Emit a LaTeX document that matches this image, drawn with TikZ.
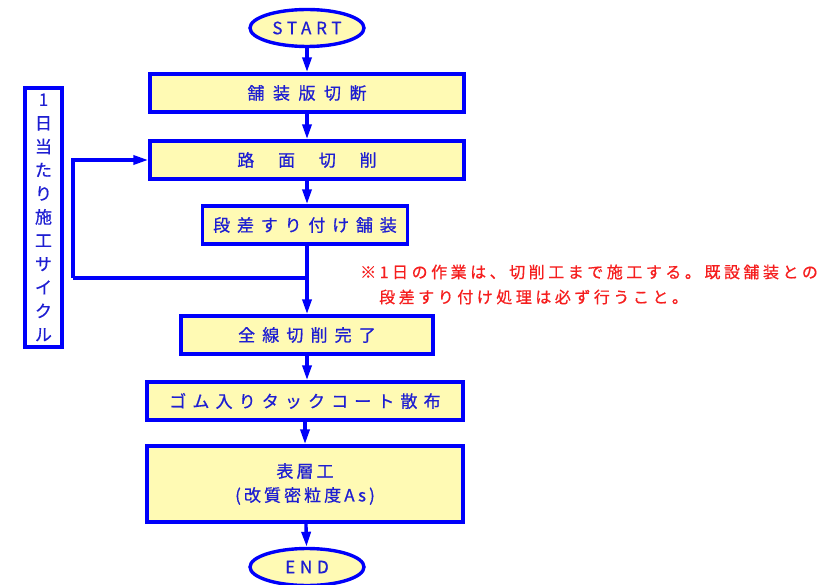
\documentclass[tikz,border=0pt]{standalone}
\usepackage{fontspec}
\setmainfont{Noto Sans CJK JP}[FakeBold=0.7]
\usetikzlibrary{shapes.geometric}
\usetikzlibrary{arrows.meta}

\definecolor{flowblue}{RGB}{0,0,250}
\definecolor{textblue}{RGB}{30,30,210}
\definecolor{boxfill}{RGB}{255,250,180}
\definecolor{notered}{RGB}{245,30,30}

\tikzset{
  stepbox/.style={draw=flowblue, line width=3.4pt, fill=boxfill, text=textblue,
    inner sep=0pt, minimum height=38pt,
    font=\fontsize{17pt}{24pt}\selectfont},
  terminal/.style={stepbox, ellipse, minimum width=114pt, minimum height=37pt},
  flow/.style={draw=flowblue, line width=3.4pt, -{Triangle[length=15pt,width=9pt]}},
  loopline/.style={draw=flowblue, line width=3.4pt},
  notetext/.style={text=notered, anchor=west, inner sep=0pt,
    font=\fontsize{16pt}{20pt}\selectfont\addfontfeature{LetterSpace=22}}
}

\begin{document}
\begin{tikzpicture}[x=1pt, y=-1pt]
  \useasboundingbox (0,0) rectangle (824,585);

  %Start and end
  \node[terminal] (start) at (307,28) {\addfontfeature{LetterSpace=28}START};
  \node[terminal] (end) at (307,567) {\addfontfeature{LetterSpace=28}END};

  %Steps
  \node[stepbox, minimum width=314pt] (cut) at (307,93)
    {\addfontfeature{LetterSpace=50}舗装版切断};
  \node[stepbox, minimum width=314pt] (mill) at (307,160)
    {\addfontfeature{LetterSpace=140}路面切削};
  \node[stepbox, minimum width=205pt] (ramp) at (305,225)
    {\addfontfeature{LetterSpace=40}段差すり付け舗装};
  \node[stepbox, minimum width=252pt] (allcut) at (307,335)
    {\addfontfeature{LetterSpace=42}全線切削完了};
  \node[stepbox, minimum width=316pt] (tack) at (305,401)
    {\addfontfeature{LetterSpace=36}ゴム入りタックコート散布};
  \node[stepbox, minimum width=316pt, minimum height=76pt, align=center] (surf) at (305,484)
    {\addfontfeature{LetterSpace=18}表層工\\\addfontfeature{LetterSpace=18}(改質密粒度As)};

  %Side label
  \node[stepbox, fill=white, minimum width=37pt, minimum height=259pt, align=center,
    font=\fontsize{17pt}{23.5pt}\selectfont] (cycle) at (43.5,217.5)
    {1\\日\\当\\た\\り\\施\\工\\サ\\イ\\ク\\ル};

  %Main flow
  \draw[flow] (start) -- (cut);
  \draw[flow] (cut) -- (mill);
  \draw[flow] (mill) -- (mill |- ramp.north);
  \draw[flow] (mill |- ramp.south) -- (mill |- allcut.north);
  \draw[flow] (allcut) -- (allcut |- tack.north);
  \draw[flow] (tack) -- (surf);
  \draw[flow] (surf) -- (end);

  %Daily loop
  \coordinate (join) at (307,278);
  \coordinate (back) at (73,278);
  \draw[loopline] (join) -- (back);
  \draw[flow] (back) |- (mill.west);

  %Note
  \node[notetext] (note1) at (360,272) {※1日の作業は、切削工まで施工する。既設舗装との};
  \node[notetext] (note2) at (379,297) {段差すり付け処理は必ず行うこと。};
\end{tikzpicture}
\end{document}
